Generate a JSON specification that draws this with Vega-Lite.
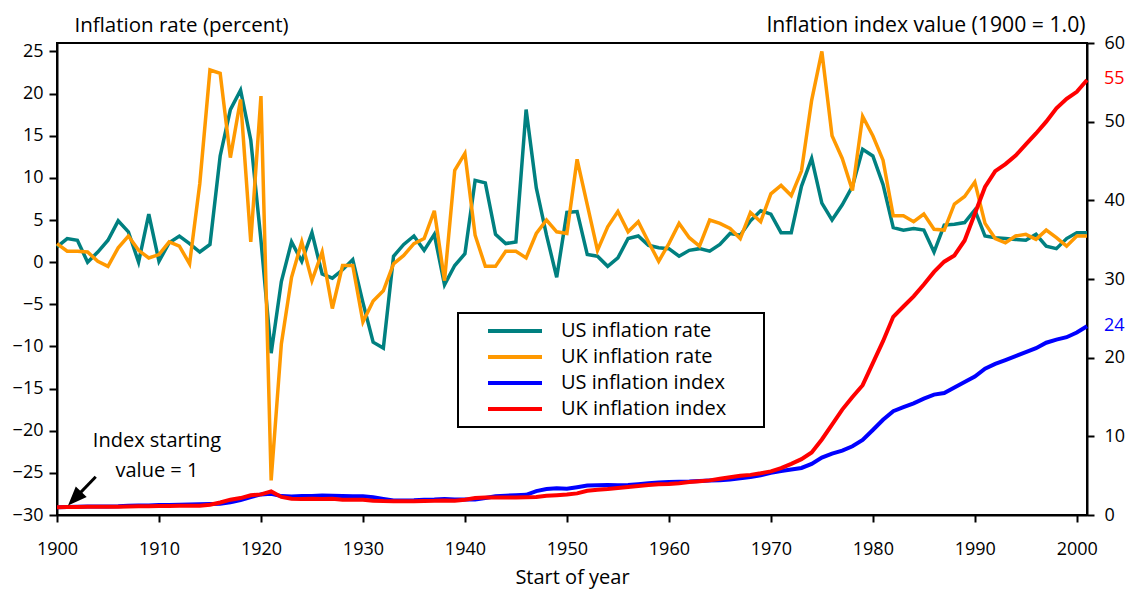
{
  "$schema": "https://vega.github.io/schema/vega-lite/v6.json",
  "width": 1030,
  "height": 472,
  "autosize": "none",
  "padding": {"left": 57, "top": 43, "right": 45, "bottom": 74},
  "background": "white",
  "config": {
    "font": "Open Sans",
    "view": {"stroke": "black", "strokeWidth": 2},
    "axis": {
      "domainColor": "black", "domainWidth": 2, "tickColor": "black", "tickWidth": 2,
      "labelColor": "black", "titleColor": "black", "labelFontSize": 18, "titleFontSize": 20.5,
      "titleFontWeight": "normal", "grid": false, "labelFont": "Open Sans", "titleFont": "Open Sans"
    },
    "legend": {
      "labelFont": "Open Sans", "labelFontSize": 20, "labelColor": "black", "strokeWidth": 2
    }
  },
  "datasets": {
    "infl": [
      {"year":1900,"US inflation rate":1.8,"UK inflation rate":2.2,"US inflation index":1.00,"UK inflation index":1.00},
      {"year":1901,"US inflation rate":2.8,"UK inflation rate":1.3,"US inflation index":1.02,"UK inflation index":1.02},
      {"year":1902,"US inflation rate":2.6,"UK inflation rate":1.3,"US inflation index":1.05,"UK inflation index":1.03},
      {"year":1903,"US inflation rate":0.0,"UK inflation rate":1.2,"US inflation index":1.07,"UK inflation index":1.05},
      {"year":1904,"US inflation rate":1.2,"UK inflation rate":0.1,"US inflation index":1.07,"UK inflation index":1.06},
      {"year":1905,"US inflation rate":2.6,"UK inflation rate":-0.5,"US inflation index":1.09,"UK inflation index":1.06},
      {"year":1906,"US inflation rate":4.9,"UK inflation rate":1.7,"US inflation index":1.11,"UK inflation index":1.06},
      {"year":1907,"US inflation rate":3.6,"UK inflation rate":3.1,"US inflation index":1.17,"UK inflation index":1.07},
      {"year":1908,"US inflation rate":0.0,"UK inflation rate":1.4,"US inflation index":1.21,"UK inflation index":1.10},
      {"year":1909,"US inflation rate":5.7,"UK inflation rate":0.5,"US inflation index":1.21,"UK inflation index":1.12},
      {"year":1910,"US inflation rate":0.1,"UK inflation rate":0.9,"US inflation index":1.28,"UK inflation index":1.13},
      {"year":1911,"US inflation rate":2.3,"UK inflation rate":2.4,"US inflation index":1.28,"UK inflation index":1.14},
      {"year":1912,"US inflation rate":3.1,"UK inflation rate":1.9,"US inflation index":1.31,"UK inflation index":1.17},
      {"year":1913,"US inflation rate":2.2,"UK inflation rate":-0.2,"US inflation index":1.35,"UK inflation index":1.19},
      {"year":1914,"US inflation rate":1.2,"UK inflation rate":9.3,"US inflation index":1.38,"UK inflation index":1.19},
      {"year":1915,"US inflation rate":2.1,"UK inflation rate":22.8,"US inflation index":1.40,"UK inflation index":1.30},
      {"year":1916,"US inflation rate":12.6,"UK inflation rate":22.4,"US inflation index":1.43,"UK inflation index":1.59},
      {"year":1917,"US inflation rate":18.1,"UK inflation rate":12.4,"US inflation index":1.61,"UK inflation index":1.95},
      {"year":1918,"US inflation rate":20.4,"UK inflation rate":19.3,"US inflation index":1.90,"UK inflation index":2.15},
      {"year":1919,"US inflation rate":14.5,"UK inflation rate":2.4,"US inflation index":2.29,"UK inflation index":2.50},
      {"year":1920,"US inflation rate":2.6,"UK inflation rate":19.7,"US inflation index":2.62,"UK inflation index":2.62},
      {"year":1921,"US inflation rate":-10.8,"UK inflation rate":-25.9,"US inflation index":2.69,"UK inflation index":3.00},
      {"year":1922,"US inflation rate":-2.3,"UK inflation rate":-9.7,"US inflation index":2.40,"UK inflation index":2.30},
      {"year":1923,"US inflation rate":2.4,"UK inflation rate":-1.8,"US inflation index":2.34,"UK inflation index":2.07},
      {"year":1924,"US inflation rate":0.1,"UK inflation rate":2.4,"US inflation index":2.40,"UK inflation index":2.03},
      {"year":1925,"US inflation rate":3.5,"UK inflation rate":-2.2,"US inflation index":2.40,"UK inflation index":2.08},
      {"year":1926,"US inflation rate":-1.4,"UK inflation rate":1.2,"US inflation index":2.48,"UK inflation index":2.03},
      {"year":1927,"US inflation rate":-1.9,"UK inflation rate":-5.5,"US inflation index":2.45,"UK inflation index":2.05},
      {"year":1928,"US inflation rate":-0.9,"UK inflation rate":-0.4,"US inflation index":2.40,"UK inflation index":1.95},
      {"year":1929,"US inflation rate":0.3,"UK inflation rate":-0.4,"US inflation index":2.37,"UK inflation index":1.94},
      {"year":1930,"US inflation rate":-4.8,"UK inflation rate":-7.1,"US inflation index":2.38,"UK inflation index":1.93},
      {"year":1931,"US inflation rate":-9.5,"UK inflation rate":-4.6,"US inflation index":2.27,"UK inflation index":1.82},
      {"year":1932,"US inflation rate":-10.2,"UK inflation rate":-3.4,"US inflation index":2.05,"UK inflation index":1.77},
      {"year":1933,"US inflation rate":0.7,"UK inflation rate":-0.2,"US inflation index":1.84,"UK inflation index":1.75},
      {"year":1934,"US inflation rate":2.1,"UK inflation rate":0.8,"US inflation index":1.85,"UK inflation index":1.75},
      {"year":1935,"US inflation rate":3.1,"UK inflation rate":2.2,"US inflation index":1.88,"UK inflation index":1.76},
      {"year":1936,"US inflation rate":1.4,"UK inflation rate":2.8,"US inflation index":1.94,"UK inflation index":1.78},
      {"year":1937,"US inflation rate":3.3,"UK inflation rate":6.1,"US inflation index":1.97,"UK inflation index":1.80},
      {"year":1938,"US inflation rate":-2.7,"UK inflation rate":-2.2,"US inflation index":2.03,"UK inflation index":1.85},
      {"year":1939,"US inflation rate":-0.4,"UK inflation rate":10.9,"US inflation index":1.97,"UK inflation index":1.82},
      {"year":1940,"US inflation rate":1.0,"UK inflation rate":12.9,"US inflation index":1.96,"UK inflation index":1.95},
      {"year":1941,"US inflation rate":9.7,"UK inflation rate":3.2,"US inflation index":1.98,"UK inflation index":2.15},
      {"year":1942,"US inflation rate":9.4,"UK inflation rate":-0.5,"US inflation index":2.17,"UK inflation index":2.22},
      {"year":1943,"US inflation rate":3.3,"UK inflation rate":-0.5,"US inflation index":2.38,"UK inflation index":2.22},
      {"year":1944,"US inflation rate":2.2,"UK inflation rate":1.3,"US inflation index":2.46,"UK inflation index":2.22},
      {"year":1945,"US inflation rate":2.4,"UK inflation rate":1.3,"US inflation index":2.52,"UK inflation index":2.24},
      {"year":1946,"US inflation rate":18.1,"UK inflation rate":0.5,"US inflation index":2.57,"UK inflation index":2.26},
      {"year":1947,"US inflation rate":8.8,"UK inflation rate":3.4,"US inflation index":3.04,"UK inflation index":2.30},
      {"year":1948,"US inflation rate":3.2,"UK inflation rate":5.0,"US inflation index":3.30,"UK inflation index":2.45},
      {"year":1949,"US inflation rate":-1.8,"UK inflation rate":3.6,"US inflation index":3.40,"UK inflation index":2.52},
      {"year":1950,"US inflation rate":5.9,"UK inflation rate":3.4,"US inflation index":3.34,"UK inflation index":2.60},
      {"year":1951,"US inflation rate":6.0,"UK inflation rate":12.2,"US inflation index":3.54,"UK inflation index":2.75},
      {"year":1952,"US inflation rate":0.9,"UK inflation rate":6.8,"US inflation index":3.75,"UK inflation index":3.08},
      {"year":1953,"US inflation rate":0.7,"UK inflation rate":1.4,"US inflation index":3.78,"UK inflation index":3.22},
      {"year":1954,"US inflation rate":-0.5,"UK inflation rate":4.2,"US inflation index":3.81,"UK inflation index":3.30},
      {"year":1955,"US inflation rate":0.5,"UK inflation rate":6.0,"US inflation index":3.79,"UK inflation index":3.42},
      {"year":1956,"US inflation rate":2.8,"UK inflation rate":3.6,"US inflation index":3.81,"UK inflation index":3.55},
      {"year":1957,"US inflation rate":3.1,"UK inflation rate":4.8,"US inflation index":3.92,"UK inflation index":3.68},
      {"year":1958,"US inflation rate":2.0,"UK inflation rate":2.4,"US inflation index":4.04,"UK inflation index":3.80},
      {"year":1959,"US inflation rate":1.7,"UK inflation rate":0.1,"US inflation index":4.12,"UK inflation index":3.90},
      {"year":1960,"US inflation rate":1.6,"UK inflation rate":2.2,"US inflation index":4.19,"UK inflation index":3.95},
      {"year":1961,"US inflation rate":0.7,"UK inflation rate":4.6,"US inflation index":4.22,"UK inflation index":4.05},
      {"year":1962,"US inflation rate":1.4,"UK inflation rate":2.9,"US inflation index":4.25,"UK inflation index":4.18},
      {"year":1963,"US inflation rate":1.6,"UK inflation rate":1.9,"US inflation index":4.31,"UK inflation index":4.28},
      {"year":1964,"US inflation rate":1.3,"UK inflation rate":5.0,"US inflation index":4.38,"UK inflation index":4.40},
      {"year":1965,"US inflation rate":2.1,"UK inflation rate":4.6,"US inflation index":4.43,"UK inflation index":4.60},
      {"year":1966,"US inflation rate":3.4,"UK inflation rate":4.0,"US inflation index":4.52,"UK inflation index":4.80},
      {"year":1967,"US inflation rate":3.2,"UK inflation rate":2.8,"US inflation index":4.68,"UK inflation index":4.98},
      {"year":1968,"US inflation rate":4.9,"UK inflation rate":5.9,"US inflation index":4.82,"UK inflation index":5.10},
      {"year":1969,"US inflation rate":6.1,"UK inflation rate":4.8,"US inflation index":5.05,"UK inflation index":5.30},
      {"year":1970,"US inflation rate":5.7,"UK inflation rate":8.1,"US inflation index":5.36,"UK inflation index":5.55},
      {"year":1971,"US inflation rate":3.5,"UK inflation rate":9.1,"US inflation index":5.60,"UK inflation index":5.95},
      {"year":1972,"US inflation rate":3.5,"UK inflation rate":7.9,"US inflation index":5.78,"UK inflation index":6.50},
      {"year":1973,"US inflation rate":9.0,"UK inflation rate":10.8,"US inflation index":5.98,"UK inflation index":7.10},
      {"year":1974,"US inflation rate":12.3,"UK inflation rate":19.2,"US inflation index":6.50,"UK inflation index":7.95},
      {"year":1975,"US inflation rate":7.0,"UK inflation rate":25.0,"US inflation index":7.30,"UK inflation index":9.60},
      {"year":1976,"US inflation rate":5.0,"UK inflation rate":15.0,"US inflation index":7.81,"UK inflation index":11.5},
      {"year":1977,"US inflation rate":6.8,"UK inflation rate":12.3,"US inflation index":8.19,"UK inflation index":13.4},
      {"year":1978,"US inflation rate":9.0,"UK inflation rate":8.5,"US inflation index":8.74,"UK inflation index":15.0},
      {"year":1979,"US inflation rate":13.4,"UK inflation rate":17.3,"US inflation index":9.53,"UK inflation index":16.5},
      {"year":1980,"US inflation rate":12.6,"UK inflation rate":15.0,"US inflation index":10.8,"UK inflation index":19.3},
      {"year":1981,"US inflation rate":9.2,"UK inflation rate":12.1,"US inflation index":12.1,"UK inflation index":22.1},
      {"year":1982,"US inflation rate":4.1,"UK inflation rate":5.5,"US inflation index":13.2,"UK inflation index":25.2},
      {"year":1983,"US inflation rate":3.8,"UK inflation rate":5.5,"US inflation index":13.7,"UK inflation index":26.5},
      {"year":1984,"US inflation rate":4.0,"UK inflation rate":4.8,"US inflation index":14.2,"UK inflation index":27.8},
      {"year":1985,"US inflation rate":3.8,"UK inflation rate":5.7,"US inflation index":14.8,"UK inflation index":29.3},
      {"year":1986,"US inflation rate":1.2,"UK inflation rate":3.9,"US inflation index":15.3,"UK inflation index":30.9},
      {"year":1987,"US inflation rate":4.4,"UK inflation rate":3.8,"US inflation index":15.5,"UK inflation index":32.2},
      {"year":1988,"US inflation rate":4.5,"UK inflation rate":6.9,"US inflation index":16.2,"UK inflation index":33.0},
      {"year":1989,"US inflation rate":4.7,"UK inflation rate":7.8,"US inflation index":16.9,"UK inflation index":34.9},
      {"year":1990,"US inflation rate":6.2,"UK inflation rate":9.5,"US inflation index":17.6,"UK inflation index":38.3},
      {"year":1991,"US inflation rate":3.1,"UK inflation rate":4.6,"US inflation index":18.6,"UK inflation index":41.7},
      {"year":1992,"US inflation rate":2.9,"UK inflation rate":2.8,"US inflation index":19.2,"UK inflation index":43.7},
      {"year":1993,"US inflation rate":2.8,"UK inflation rate":2.3,"US inflation index":19.7,"UK inflation index":44.6},
      {"year":1994,"US inflation rate":2.7,"UK inflation rate":3.1,"US inflation index":20.2,"UK inflation index":45.7},
      {"year":1995,"US inflation rate":2.6,"UK inflation rate":3.3,"US inflation index":20.7,"UK inflation index":47.1},
      {"year":1996,"US inflation rate":3.3,"UK inflation rate":2.7,"US inflation index":21.2,"UK inflation index":48.5},
      {"year":1997,"US inflation rate":1.9,"UK inflation rate":3.8,"US inflation index":21.9,"UK inflation index":50.0},
      {"year":1998,"US inflation rate":1.6,"UK inflation rate":2.9,"US inflation index":22.3,"UK inflation index":51.7},
      {"year":1999,"US inflation rate":2.8,"UK inflation rate":1.9,"US inflation index":22.6,"UK inflation index":52.9},
      {"year":2000,"US inflation rate":3.5,"UK inflation rate":3.1,"US inflation index":23.2,"UK inflation index":53.8},
      {"year":2001,"US inflation rate":3.5,"UK inflation rate":3.1,"US inflation index":24.0,"UK inflation index":55.3}
    ],
    "endLabels": [
      {"year": 2001, "value": 55.4, "label": "55", "series": "UK inflation index"},
      {"year": 2001, "value": 24.0, "label": "24", "series": "US inflation index"}
    ],
    "note": [
      {"year": 1909.8, "value": 8.68, "note": "Index starting\nvalue = 1"}
    ],
    "arrowShaft": [
      {"year": 1903.8, "value": 4.87, "year2": 1901.73, "value2": 2.08}
    ],
    "arrowHead": [
      {"year": 1901.73, "value": 2.08}
    ]
  },
  "encoding": {
    "x": {
      "field": "year", "type": "quantitative", "title": "Start of year",
      "scale": {"domain": [1900, 2001], "nice": false, "zero": false},
      "axis": {
        "values": [1900, 1910, 1920, 1930, 1940, 1950, 1960, 1970, 1980, 1990, 2000],
        "format": "d", "tickSize": 7, "labelPadding": 18, "labelFlush": false,
        "labelOverlap": false, "titleFontSize": 20, "titleBaseline": "alphabetic", "titleY": 68
      }
    }
  },
  "layer": [
    {
      "encoding": {
        "y": {
          "field": "value", "type": "quantitative", "title": "Inflation rate (percent)",
          "scale": {"domain": [-30, 26], "nice": false, "zero": false},
          "axis": {
            "orient": "left",
            "values": [-30, -25, -20, -15, -10, -5, 0, 5, 10, 15, 20, 25],
            "tickSize": 8, "labelPadding": 6, "labelFlush": false, "labelOverlap": false,
            "titleAngle": 0, "titleAlign": "left", "titleBaseline": "alphabetic",
            "titleX": 17, "titleY": -12
          }
        }
      },
      "layer": [
        {
          "data": {"name": "infl"},
          "transform": [{"fold": ["US inflation rate", "UK inflation rate"], "as": ["series", "value"]}],
          "mark": {"type": "line", "strokeWidth": 3.5},
          "encoding": {
            "color": {
              "field": "series", "type": "nominal",
              "scale": {
                "domain": ["US inflation rate", "UK inflation rate", "US inflation index", "UK inflation index"],
                "range": ["#008080", "#ff9900", "#0000ff", "#ff0000"]
              },
              "legend": {
                "orient": "none", "legendX": 401, "legendY": 270,
                "title": " ", "titleOrient": "right", "titlePadding": 30, "titleFontSize": 6,
                "strokeColor": "black", "fillColor": "white", "padding": 8,
                "symbolType": "M-3.375,0L3.375,0", "symbolSize": 256, "symbolStrokeWidth": 4,
                "symbolOffset": 39, "labelOffset": 36, "rowPadding": 6, "labelFontSize": 20,
                "labelLimit": 400
              }
            }
          }
        },
        {
          "data": {"values": [{}]},
          "mark": {"type": "rule", "color": "black", "strokeWidth": 2},
          "encoding": {
            "x": {"datum": 1900},
            "x2": {"datum": 2001},
            "y": {"datum": 0}
          }
        }
      ]
    },
    {
      "encoding": {
        "y": {
          "field": "value", "type": "quantitative", "title": "Inflation index value (1900 = 1.0)",
          "scale": {"domain": [0, 60], "nice": false, "zero": true},
          "axis": {
            "orient": "right",
            "values": [0, 10, 20, 30, 40, 50, 60],
            "tickSize": 7, "labelPadding": 10, "labelFlush": false, "labelOverlap": false,
            "titleAngle": 0, "titleAlign": "right", "titleBaseline": "alphabetic",
            "titleX": -2, "titleY": -12, "titleFontSize": 21.2
          }
        }
      },
      "layer": [
        {
          "data": {"name": "infl"},
          "transform": [{"fold": ["US inflation index", "UK inflation index"], "as": ["series", "value"]}],
          "mark": {"type": "line", "strokeWidth": 4},
          "encoding": {
            "color": {"field": "series", "type": "nominal"}
          }
        },
        {
          "data": {"name": "endLabels"},
          "transform": [{"filter": {"field": "series", "equal": "UK inflation index"}}],
          "mark": {"type": "text", "align": "left", "baseline": "middle", "dx": 17, "fontSize": 18, "color": "#ff0000"},
          "encoding": {"text": {"field": "label"}}
        },
        {
          "data": {"name": "endLabels"},
          "transform": [{"filter": {"field": "series", "equal": "US inflation index"}}],
          "mark": {"type": "text", "align": "left", "baseline": "middle", "dx": 17, "fontSize": 18, "color": "#0000ff"},
          "encoding": {"text": {"field": "label"}}
        },
        {
          "data": {"name": "arrowShaft"},
          "mark": {"type": "rule", "color": "black", "strokeWidth": 3},
          "encoding": {
            "x2": {"field": "year2"},
            "y2": {"field": "value2"}
          }
        },
        {
          "data": {"name": "arrowHead"},
          "mark": {"type": "point", "shape": "M0,-1L-0.8,1L0.8,1Z", "size": 361, "angle": 224, "filled": true, "color": "black", "opacity": 1},
          "encoding": {}
        },
        {
          "data": {"name": "note"},
          "mark": {"type": "text", "align": "center", "baseline": "alphabetic", "fontSize": 20, "lineBreak": "\n", "lineHeight": 30, "color": "black"},
          "encoding": {"text": {"field": "note"}}
        }
      ]
    }
  ],
  "resolve": {"scale": {"y": "independent"}}
}
